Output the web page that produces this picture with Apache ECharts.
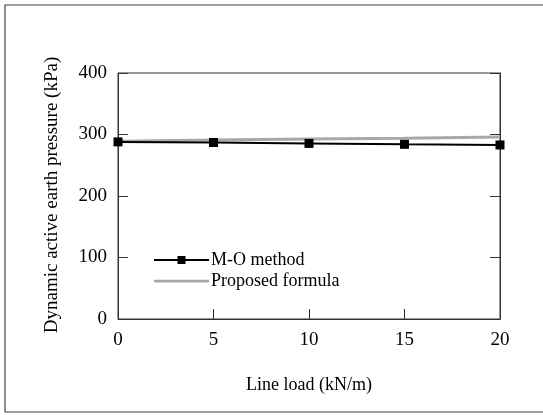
<!DOCTYPE html>
<html>
<head>
<meta charset="utf-8">
<script src="https://cdn.jsdelivr.net/npm/echarts@6/dist/echarts.min.js"></script>
<style>
  html, body { margin: 0; padding: 0; background: #fff; }
  #chart { width: 543px; height: 415px; }
</style>
</head>
<body>
<div id="chart"></div>
<script>
// line load values (kN/m)
var lineLoad = [0, 5, 10, 15, 20];
// dynamic active earth pressure (kPa)
var moMethod = [288, 287, 285.5, 284, 283];
var proposedFormula = [289, 291, 292.5, 294, 296];
var seriesNames = ['M-O method', 'Proposed formula'];

function pairs(xs, ys) {
    return xs.map(function (x, i) { return [x, ys[i]]; });
}

var font = 'Liberation Serif, Times New Roman, serif';
var myChart = echarts.init(document.getElementById('chart'));

var option = {
    animation: false,
    backgroundColor: '#fff',
    graphic: [{
        type: 'rect',
        shape: { x: 5, y: 5, width: 560, height: 407 },
        style: { fill: 'none', stroke: '#444', lineWidth: 1.2 }
    }, {
        // y axis title, placed by hand like the original
        type: 'text',
        x: 52, y: 195,
        rotation: Math.PI / 2,
        style: {
            text: 'Dynamic active earth pressure (kPa)',
            fontFamily: font, fontSize: 19, fill: '#000',
            align: 'center', verticalAlign: 'middle'
        }
    }],
    grid: {
        left: 118, right: 43, top: 73, bottom: 96,
        show: true, borderColor: '#333', borderWidth: 1
    },
    legend: {
        orient: 'vertical',
        left: 148, top: 246,
        itemWidth: 55, itemHeight: 10, itemGap: 3,
        textStyle: { fontFamily: font, fontSize: 18, color: '#000', padding: [0, 0, 0, -3] },
        data: [
            seriesNames[0],
            { name: seriesNames[1], icon: 'path://M0,0H60V3H0Z' }
        ]
    },
    xAxis: {
        type: 'value',
        min: 0, max: 20, interval: 5,
        name: 'Line load (kN/m)',
        nameLocation: 'middle',
        nameGap: 57,
        nameTextStyle: { fontFamily: font, fontSize: 18, color: '#000' },
        axisLine: { lineStyle: { color: '#333' } },
        axisTick: { inside: true, length: 10, lineStyle: { color: '#333' } },
        axisLabel: { fontFamily: font, fontSize: 19, color: '#000', margin: 12 },
        splitLine: { show: false }
    },
    yAxis: [{
        type: 'value',
        min: 0, max: 400, interval: 100,
        axisLine: { show: true, lineStyle: { color: '#333' } },
        axisTick: { show: true, inside: true, length: 10, lineStyle: { color: '#333' } },
        axisLabel: { fontFamily: font, fontSize: 19, color: '#000', margin: 11 },
        splitLine: { show: false }
    }, {
        type: 'value',
        position: 'right',
        min: 0, max: 400, interval: 100,
        axisLine: { show: true, lineStyle: { color: '#333' } },
        axisTick: { show: true, inside: true, length: 10, lineStyle: { color: '#333' } },
        axisLabel: { show: false },
        splitLine: { show: false }
    }],
    series: [{
        name: seriesNames[0],
        type: 'line',
        data: pairs(lineLoad, moMethod),
        symbol: 'rect',
        symbolSize: 9,
        z: 3,
        lineStyle: { color: '#000', width: 2 },
        itemStyle: { color: '#000' }
    }, {
        name: seriesNames[1],
        type: 'line',
        data: pairs(lineLoad, proposedFormula),
        symbol: 'none',
        z: 2,
        lineStyle: { color: '#a8a8a8', width: 3 },
        itemStyle: { color: '#a8a8a8' }
    }]
};

myChart.setOption(option);
window.addEventListener('resize', function () {
    myChart.resize();
});
</script>
</body>
</html>
